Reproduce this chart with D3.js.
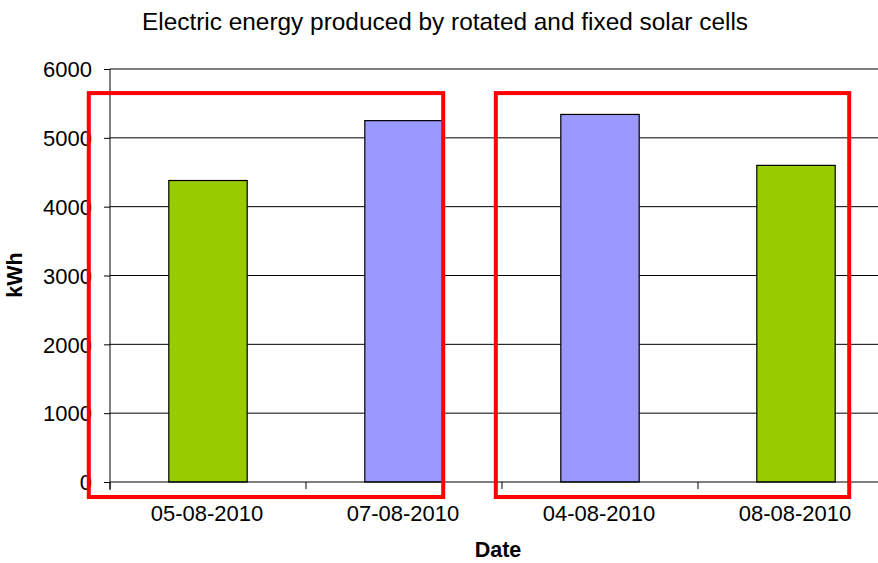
<!DOCTYPE html>
<html><head><meta charset="utf-8">
<script src="https://cdn.jsdelivr.net/npm/d3@7"></script>
<style>body{margin:0;background:#fff}svg{display:block;font-family:"Liberation Sans",Arial,sans-serif}</style>
</head><body><svg id="c" width="878" height="563"></svg>
<script>
const categories = ["05-08-2010","07-08-2010","04-08-2010","08-08-2010"];
const values = [4380, 5250, 5340, 4600];
const barColors = ["#99CC00","#9999FF","#9999FF","#99CC00"];
const yTicks = [0,1000,2000,3000,4000,5000,6000];
const groups = [[0,1],[2,3]];

const svg = d3.select("#c");
const mLeft = 110, mRight = 894, mTop = 69, mBottom = 482;
const x = d3.scaleBand().domain(categories).range([mLeft, mRight]).paddingInner(0.6).paddingOuter(0.3);
const xc = d3.scaleBand().domain(categories).range([mLeft, mRight]);
const y = d3.scaleLinear().domain([0, 6000]).range([mBottom, mTop]);

// gridlines
svg.append("g").selectAll("line").data(yTicks.slice(1)).join("line")
  .attr("x1", mLeft).attr("x2", mRight).attr("y1", d=>y(d)).attr("y2", d=>y(d))
  .attr("stroke", "#000").attr("stroke-width", 1);

// y axis
const ya = svg.append("g").attr("transform", `translate(${mLeft},0)`)
  .call(d3.axisLeft(y).tickValues(yTicks).tickSize(6).tickPadding(12).tickFormat(d3.format("d")));
ya.select(".domain").attr("d", `M0,${mTop}V${mBottom+8}`).attr("stroke","#000");
ya.selectAll(".tick line").attr("stroke","#000");
ya.selectAll("text").attr("font-size", 22).attr("fill","#000").attr("dy","0.35em")
  .attr("font-family","Liberation Sans, Arial, sans-serif");

// bars
svg.append("g").selectAll("rect").data(values).join("rect")
  .attr("x", (d,i)=>x(categories[i])).attr("width", x.bandwidth())
  .attr("y", d=>y(d)).attr("height", d=>y(0)-y(d))
  .attr("fill", (d,i)=>barColors[i]).attr("stroke", "#000").attr("stroke-width", 1.2);

// x axis
svg.append("line").attr("x1", mLeft).attr("x2", mRight).attr("y1", mBottom).attr("y2", mBottom)
  .attr("stroke","#000").attr("stroke-width",1.2);
svg.append("g").selectAll("line").data(categories).join("line")
  .attr("x1", d=>xc(d)).attr("x2", d=>xc(d)).attr("y1", mBottom).attr("y2", mBottom+7)
  .attr("stroke","#000");
svg.append("g").selectAll("text").data(categories).join("text")
  .attr("x", d=>xc(d)+xc.bandwidth()/2 - 1).attr("y", mBottom+39)
  .attr("text-anchor","middle").attr("font-size",22).attr("fill","#000").text(d=>d);

// red annotation rectangles
const padL = [80, 65], padR = [0, 14];
svg.append("g").selectAll("rect").data(groups).join("rect")
  .attr("x", (g,i) => x(categories[g[0]]) - padL[i])
  .attr("y", y(5650))
  .attr("width", (g,i) => (x(categories[g[1]]) + x.bandwidth() + padR[i]) - (x(categories[g[0]]) - padL[i]))
  .attr("height", (mBottom + 15) - y(5650))
  .attr("fill","none").attr("stroke","#ff0000").attr("stroke-width",4);

// titles
svg.append("text").attr("x", 445).attr("y", 30).attr("text-anchor","middle")
  .attr("font-size",24.4).attr("fill","#000").text("Electric energy produced by rotated and fixed solar cells");
svg.append("text").attr("x", 498).attr("y", 557).attr("text-anchor","middle")
  .attr("font-size",21.5).attr("font-weight","bold").attr("fill","#000").text("Date");
svg.append("text").attr("transform","translate(22,275) rotate(-90)").attr("text-anchor","middle")
  .attr("font-size",21.5).attr("font-weight","bold").attr("fill","#000").text("kWh");
</script></body></html>
